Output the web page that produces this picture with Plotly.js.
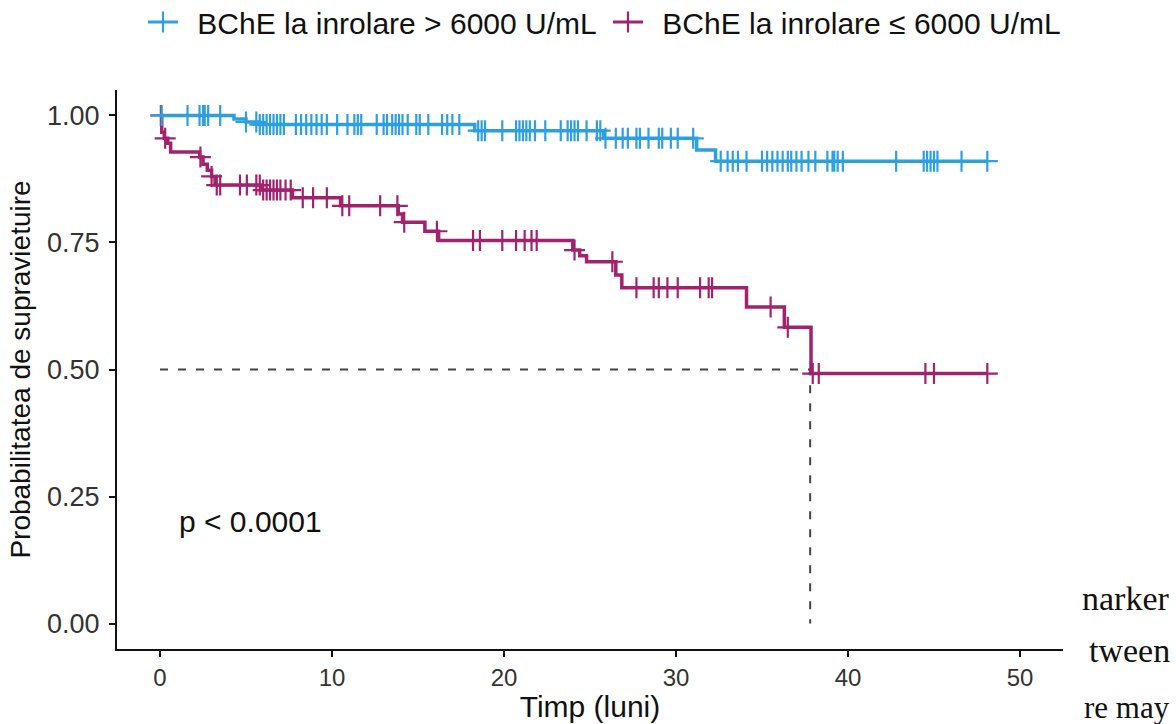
<!DOCTYPE html>
<html>
<head>
<meta charset="utf-8">
<script src="https://cdn.plot.ly/plotly-3.0.1.min.js"></script>
<style>
html,body{margin:0;padding:0;background:#fff;}
#chart{width:1176px;height:724px;}
</style>
</head>
<body>
<div id="chart"></div>
<script>
// ---- Data ----
const groupNames = ["BChE la inrolare > 6000 U/mL", "BChE la inrolare \u2264 6000 U/mL"];

// Group 1 (> 6000 U/mL) step curve
const highTimes = [0, 4.3, 5.0, 5.8, 18.3, 25.8, 31.2, 32.3, 48.1];
const highSurv  = [1.0, 0.993, 0.987, 0.982, 0.970, 0.955, 0.932, 0.910, 0.910];
const highCensor = [0.1, 1.6, 2.3, 2.5, 2.6, 2.8, 3.5, 5.0, 5.6, 5.8, 6.0, 6.2, 6.4, 6.6, 6.8, 7.0, 7.2,
  7.9, 8.2, 8.5, 8.8, 9.1, 9.4, 9.7, 10.3, 10.9, 11.3, 11.5, 11.7, 12.6, 13.0, 13.2, 13.5, 13.7,
  13.9, 14.1, 14.4, 14.9, 15.1, 15.6, 16.4, 16.7, 17.0, 17.4, 18.5, 18.7, 18.9, 19.9, 20.7, 20.9,
  21.1, 21.3, 21.5, 21.8, 22.4, 23.3, 23.7, 23.9, 24.1, 24.3, 24.8, 25.4, 25.6, 25.9, 26.5, 26.9,
  27.2, 27.7, 27.9, 28.4, 29.0, 29.2, 29.7, 30.1, 31.0, 32.6, 33.0, 33.3, 33.6, 34.1, 35.0, 35.3,
  35.6, 35.9, 36.2, 36.5, 36.7, 37.0, 37.3, 37.7, 38.1, 38.8, 39.1, 39.2, 39.4, 39.7, 42.8, 44.4,
  44.6, 44.8, 45.0, 45.2, 46.6, 48.1];

// Group 2 (<= 6000 U/mL) step curve
const lowTimes = [0, 0.1, 0.25, 0.45, 0.62, 2.3, 2.5, 2.75, 3.0, 3.2, 5.85, 7.7, 10.5, 13.85, 14.1,
  15.4, 16.2, 24.0, 24.4, 24.8, 26.5, 26.85, 34.1, 36.3, 37.85, 48.1];
const lowSurv  = [1.0, 0.967, 0.955, 0.945, 0.928, 0.918, 0.904, 0.892, 0.880, 0.863, 0.853, 0.838,
  0.822, 0.806, 0.790, 0.772, 0.754, 0.735, 0.724, 0.712, 0.686, 0.661, 0.623, 0.583, 0.492, 0.492];
const lowCensor = [0.05, 0.3, 2.35, 3.0, 3.3, 3.5, 4.65, 5.05, 5.6, 5.8, 6.0, 6.2, 6.4, 6.6, 6.8, 7.0,
  7.3, 7.6, 8.3, 8.9, 9.7, 10.6, 11.0, 12.8, 13.8, 14.2, 16.1, 18.2, 18.6, 19.9, 20.7, 21.2, 21.6,
  21.9, 24.1, 26.3, 27.7, 28.7, 29.0, 29.5, 30.1, 31.4, 31.9, 32.1, 35.5, 36.5, 37.95, 38.3, 44.5,
  45.0, 48.1];

// Median survival reference (dashed lines)
const medianLevel = 0.5;
const medianTime = 37.8;

const pValueText = "p < 0.0001";
const xTicks = [0, 10, 20, 30, 40, 50];
const yTicks = [0, 0.25, 0.5, 0.75, 1.0];
const yTickText = ["0.00", "0.25", "0.50", "0.75", "1.00"];
const strayText = ["narker", "tween", "re may"];

// ---- Build traces ----
const colors = ["#2E9FDF", "#A2226E"];
const FONT = "Liberation Sans, Arial, Helvetica, sans-serif";

function survAt(times, surv, t) {
  let s = surv[0];
  for (let i = 0; i < times.length; i++) { if (times[i] <= t) s = surv[i]; }
  return s;
}

function groupTraces(times, surv, censor, color, name, rank) {
  return [
    {x: times, y: surv, type: "scatter", mode: "lines", line: {shape: "hv", color: color, width: 3.5},
     showlegend: false, hoverinfo: "skip"},
    {x: censor, y: censor.map(t => survAt(times, surv, t)), type: "scatter", mode: "markers",
     marker: {symbol: "cross-thin", size: 15, color: color, line: {color: color, width: 2.2}},
     showlegend: false, hoverinfo: "skip"},
    {x: [null], y: [null], type: "scatter", mode: "lines+markers", name: "\u2009 " + name, legendrank: rank,
     line: {color: color, width: 3},
     marker: {symbol: "cross-thin", size: 15, color: color, line: {color: color, width: 2.2}}}
  ];
}

const traces = [
  {x: [0, medianTime, medianTime], y: [medianLevel, medianLevel, 0], type: "scatter", mode: "lines",
   line: {color: "#444444", width: 2, dash: "8px,10px"}, showlegend: false, hoverinfo: "skip"},
  ...groupTraces(lowTimes, lowSurv, lowCensor, colors[1], groupNames[1], 2),
  ...groupTraces(highTimes, highSurv, highCensor, colors[0], groupNames[0], 1)
];

const layout = {
  width: 1176, height: 724,
  margin: {l: 117, r: 113, t: 90, b: 75},
  paper_bgcolor: "#ffffff", plot_bgcolor: "#ffffff",
  font: {family: FONT, color: "#222"},
  showlegend: true,
  legend: {orientation: "h", xref: "container", yref: "container", x: 0.517, xanchor: "center",
           y: 0.9696, yanchor: "middle", font: {size: 30, color: "#111", family: FONT},
           itemwidth: 30, traceorder: "normal", entrywidth: 420},
  xaxis: {range: [-2.5, 52.5], tickvals: xTicks, ticks: "outside", ticklen: 6, tickwidth: 2,
          tickcolor: "#111", showline: true, linecolor: "#111", linewidth: 2, showgrid: false,
          zeroline: false, tickfont: {size: 24, color: "#333", family: FONT},
          title: {text: "Timp (luni)", font: {size: 30, color: "#111", family: FONT}, standoff: 6}},
  yaxis: {range: [-0.05, 1.05], tickvals: yTicks, ticktext: yTickText, ticks: "outside", ticklen: 6,
          tickwidth: 2, tickcolor: "#111", showline: true, linecolor: "#111", linewidth: 2,
          showgrid: false, zeroline: false, tickfont: {size: 27, color: "#333", family: FONT},
          ticklabelstandoff: 4,
          title: {text: "Probabilitatea de supravietuire", font: {size: 28, color: "#111", family: FONT}, standoff: 8}},
  annotations: [
    {x: 1.0, y: 0.2, xref: "x", yref: "y", text: pValueText, showarrow: false, xanchor: "left",
     yanchor: "middle", font: {size: 30, color: "#111", family: FONT}}
  ]
};

// stray document text at the lower right (pixel anchors converted to paper coords)
const plotW = 1176 - 117 - 113, plotH = 724 - 90 - 75;
const strayPos = [[1080, 598], [1087, 650], [1082, 707]];
const straySize = [34, 34, 31];
strayText.forEach((t, i) => {
  layout.annotations.push({
    x: (strayPos[i][0] - 117) / plotW, y: 1 - (strayPos[i][1] - 90) / plotH,
    xref: "paper", yref: "paper", text: t, showarrow: false, xanchor: "left", yanchor: "middle",
    font: {family: "Liberation Serif, Times New Roman, serif", size: straySize[i], color: "#111"}
  });
});

Plotly.newPlot("chart", traces, layout, {displayModeBar: false, staticPlot: true});
</script>
</body>
</html>
